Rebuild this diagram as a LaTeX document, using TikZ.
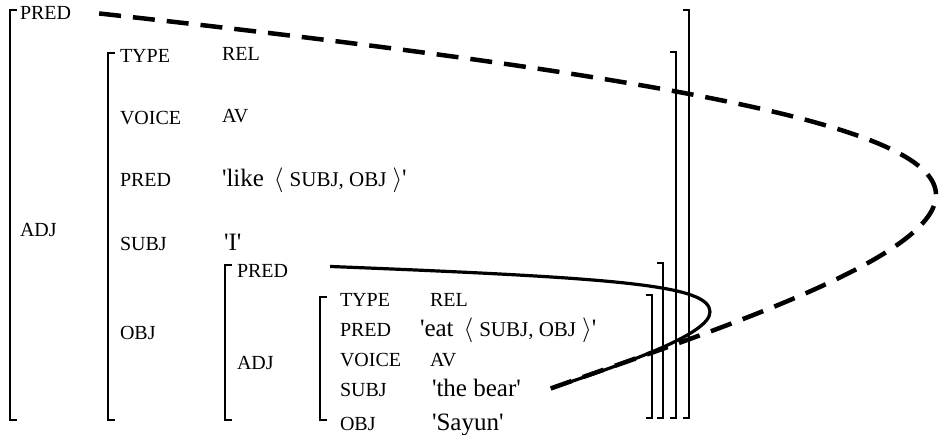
\documentclass[tikz,border=0pt]{standalone}
\usepackage{fontspec}
\setmainfont{Liberation Serif}
\usepackage{tikz}

\newcommand{\q}{\textquotesingle}
\newcommand{\valtxt}[1]{{\fontsize{25}{25}\selectfont #1}}
\newcommand{\argtxt}{\hspace{10pt}{\fontsize{24}{24}\selectfont$\langle$}\hspace{6pt}{\fontsize{21}{21}\selectfont SUBJ, OBJ}\hspace{6pt}{\fontsize{24}{24}\selectfont$\rangle$}}

\begin{document}
\begin{tikzpicture}[x=1pt,y=-1pt]
			\tikzstyle{every node} = [inner sep=0pt,outer sep=0pt,anchor=base west,font=\fontsize{20}{20}\selectfont];
			\tikzstyle{lbrack} = [line width=2.6pt];
			\tikzstyle{rbrack} = [line width=2pt];
			\tikzstyle{dashline} = [line width=4.5pt,dash pattern=on 22pt off 12pt];
			\tikzstyle{solidline} = [line width=3.2pt];
			\useasboundingbox (0,0) rectangle (940,435);
			% outer f-structure
			\node (pred0) at (20,20) {PRED};
			\node (adj0) at (20,237) {ADJ};
			% relative clause
			\node (type1) at (120,63) {TYPE};
			\node (rel1) at (222,61) {REL};
			\node (voice1) at (120,125) {VOICE};
			\node (av1) at (222,123) {AV};
			\node (pred1) at (120,187) {PRED};
			\node (like) at (222,187) {\valtxt{\q like}\argtxt\valtxt{\q}};
			\node (subj1) at (120,251) {SUBJ};
			\node (i) at (224,251) {\valtxt{\q I\q}};
			\node (obj1) at (120,340) {OBJ};
			% object
			\node (pred2) at (237,278) {PRED};
			\node (adj2) at (237,370) {ADJ};
			% inner relative clause
			\node (type3) at (340,307) {TYPE};
			\node (rel3) at (430,307) {REL};
			\node (pred3) at (340,337) {PRED};
			\node (eat) at (420,337) {\valtxt{\q eat}\argtxt\valtxt{\q}};
			\node (voice3) at (340,367) {VOICE};
			\node (av3) at (430,367) {AV};
			\node (subj3) at (340,397) {SUBJ};
			\node (bear) at (432,397) {\valtxt{\q the bear\q}};
			\node (obj3) at (340,431) {OBJ};
			\node (sayun) at (432,431) {\valtxt{\q Sayun\q}};
			% brackets
			\foreach \x/\t in {10/10,108/53,225/265,320/297}
				\draw[lbrack] (\x+7,\t) -- (\x,\t) -- (\x,420) -- (\x+7,420);
			\foreach \x/\t in {689/10,676/52,663/263,652/295}
				\draw[rbrack] (\x-6,\t) -- (\x,\t) -- (\x,418) -- (\x-6,418);
			% control lines
			\coordinate (dstart) at ([xshift=28pt]pred0.east);
			\coordinate (sstart) at ([xshift=42pt,yshift=5pt]pred2.east);
			\coordinate (dend) at ([xshift=30pt]bear.east);
			\draw[dashline] (dstart) .. controls (700,80) and (936,130) .. (936,195)
				.. controls (936,260) and (700,335) .. (dend);
			\draw[solidline] (sstart) .. controls (620,278) and (710,285) .. (710,312)
				.. controls (710,335) and (620,365) .. (dend);
		\end{tikzpicture}
\end{document}
